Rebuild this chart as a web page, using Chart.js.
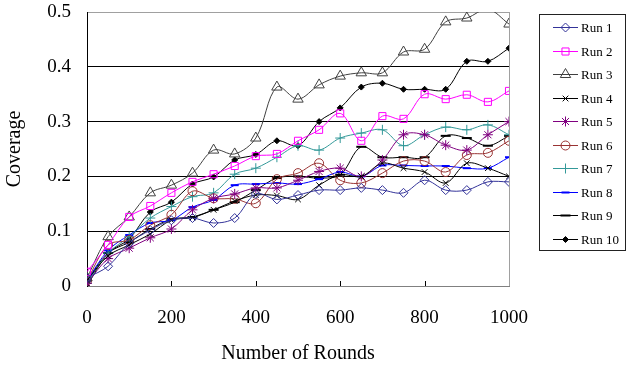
<!DOCTYPE html>
<html>
<head>
<meta charset="utf-8">
<script src="https://cdn.jsdelivr.net/npm/chart.js@4/dist/chart.umd.min.js"></script>
<style>
  html, body { margin: 0; padding: 0; background: #fff; }
</style>
</head>
<body>
<canvas id="coverageChart" width="626" height="367"></canvas>
<script>
"use strict";
const SERIF = "'Liberation Serif', 'Times New Roman', serif";

// rounds sampled every 50
const rounds = [0, 50, 100, 150, 200, 250, 300, 350, 400, 450, 500,
  550, 600, 650, 700, 750, 800, 850, 900, 950, 1000];
const xTicks = [0, 200, 400, 600, 800, 1000];
const yTicks = [0, 0.1, 0.2, 0.3, 0.4, 0.5];

const run1 = [0.015, 0.036, 0.078, 0.102, 0.12, 0.124, 0.115, 0.124, 0.168, 0.158, 0.166,
  0.175, 0.175, 0.179, 0.175, 0.17, 0.193, 0.175, 0.175, 0.19, 0.19];
const run2 = [0.026, 0.075, 0.126, 0.146, 0.17, 0.19, 0.204, 0.219, 0.237, 0.241, 0.265,
  0.285, 0.315, 0.265, 0.31, 0.305, 0.35, 0.341, 0.349, 0.336, 0.356];
const run3 = [0.015, 0.09, 0.126, 0.17, 0.184, 0.206, 0.248, 0.241, 0.27, 0.363, 0.341,
  0.367, 0.383, 0.389, 0.389, 0.427, 0.432, 0.482, 0.489, 0.505, 0.478];
const run4 = [0.01, 0.055, 0.075, 0.095, 0.12, 0.125, 0.139, 0.155, 0.166, 0.165, 0.158,
  0.184, 0.203, 0.2, 0.224, 0.215, 0.208, 0.188, 0.224, 0.215, 0.2];
const run5 = [0.005, 0.05, 0.069, 0.088, 0.104, 0.139, 0.16, 0.168, 0.179, 0.179, 0.193,
  0.209, 0.215, 0.2, 0.23, 0.276, 0.276, 0.257, 0.248, 0.276, 0.3];
const run6 = [0.01, 0.075, 0.084, 0.111, 0.13, 0.173, 0.16, 0.159, 0.151, 0.195, 0.206,
  0.224, 0.193, 0.188, 0.206, 0.228, 0.228, 0.208, 0.239, 0.243, 0.265];
const run7 = [0.005, 0.06, 0.09, 0.124, 0.145, 0.163, 0.17, 0.204, 0.215, 0.235, 0.256,
  0.248, 0.27, 0.279, 0.285, 0.256, 0.276, 0.29, 0.285, 0.294, 0.276];
const run8 = [0.01, 0.065, 0.093, 0.115, 0.12, 0.144, 0.157, 0.184, 0.186, 0.188, 0.186,
  0.195, 0.208, 0.2, 0.22, 0.22, 0.219, 0.219, 0.215, 0.215, 0.235];
const run9 = [0.01, 0.06, 0.08, 0.104, 0.122, 0.126, 0.139, 0.153, 0.175, 0.197, 0.2,
  0.197, 0.203, 0.254, 0.235, 0.235, 0.235, 0.274, 0.27, 0.256, 0.274];
const run10 = [0.0, 0.06, 0.086, 0.135, 0.153, 0.186, 0.199, 0.23, 0.24, 0.265, 0.256,
  0.3, 0.325, 0.363, 0.37, 0.359, 0.359, 0.359, 0.41, 0.41, 0.434];

const runs = [run1, run2, run3, run4, run5, run6, run7, run8, run9, run10];
const labels = ["Run 1", "Run 2", "Run 3", "Run 4", "Run 5",
  "Run 6", "Run 7", "Run 8", "Run 9", "Run 10"];

// marker look for each run
const styles = [
  { color: "#333399", point: "rectRot", radius: 4.5, fill: false, pw: 1 },
  { color: "#ff00ff", point: "rect", radius: 5, fill: false, pw: 1 },
  { color: "#404040", point: "triangle", radius: 6, fill: false, pw: 1 },
  { color: "#000000", point: "crossRot", radius: 4, fill: false, pw: 1 },
  { color: "#800080", point: "star", radius: 5, fill: false, pw: 1 },
  { color: "#993333", point: "circle", radius: 4.5, fill: false, pw: 1 },
  { color: "#339999", point: "cross", radius: 5, fill: false, pw: 1 },
  { color: "#0000ff", point: "line", radius: 4, fill: false, pw: 2 },
  { color: "#000000", point: "line", radius: 5, fill: false, pw: 2 },
  { color: "#000000", point: "rectRot", radius: 3, fill: true, pw: 1 },
];

const datasets = runs.map((vals, i) => {
  const s = styles[i];
  return {
    label: labels[i],
    data: vals.map((v, j) => ({ x: rounds[j], y: v })),
    borderColor: s.color,
    borderWidth: 1,
    tension: 0.35,
    pointStyle: s.point,
    // markers that fall above the plot top are hidden
    pointRadius: (ctx) => (ctx.raw && ctx.raw.y > 0.5 ? 0 : s.radius),
    pointBorderColor: s.color,
    pointBackgroundColor: s.fill ? s.color : "rgba(0,0,0,0)",
    pointBorderWidth: s.pw,
    _style: s,
  };
});

// boxed legend on the right, plus the frame bits the axes don't draw
const framePlugin = {
  id: "frame",
  afterDraw(chart) {
    const ctx = chart.ctx;
    const area = chart.chartArea;
    const xs = chart.scales.x;
    ctx.save();
    ctx.lineWidth = 1;
    ctx.strokeStyle = "#a0a0a0";
    ctx.beginPath();
    ctx.moveTo(Math.round(area.right) + 0.5, area.top);
    ctx.lineTo(Math.round(area.right) + 0.5, area.bottom);
    ctx.stroke();

    ctx.strokeStyle = "#000";
    ctx.beginPath();
    xTicks.slice(1, -1).forEach((v) => {
      const px = Math.round(xs.getPixelForValue(v)) + 0.5;
      ctx.moveTo(px, area.bottom);
      ctx.lineTo(px, area.bottom - 5);
    });
    ctx.stroke();

    // legend
    const bx = 539.5, by = 14.5, bw = 86, bh = 236;
    ctx.strokeStyle = "#222";
    ctx.strokeRect(bx, by, bw, bh);
    ctx.font = "13px " + SERIF;
    ctx.textBaseline = "middle";
    ctx.fillStyle = "#000";
    chart.data.datasets.forEach((ds, i) => {
      const s = ds._style;
      const y = Math.round(27 + i * 23.5) + 0.5;
      ctx.strokeStyle = s.color;
      ctx.lineWidth = 1;
      ctx.beginPath();
      ctx.moveTo(553, y);
      ctx.lineTo(578, y);
      ctx.stroke();
      ctx.fillStyle = s.fill ? s.color : "rgba(0,0,0,0)";
      ctx.lineWidth = s.pw;
      Chart.helpers.drawPoint(ctx, {
        pointStyle: s.point,
        radius: s.radius,
        borderWidth: s.pw,
        rotation: 0,
      }, 565.5, y);
      ctx.fillStyle = "#000";
      ctx.fillText(ds.label, 581, y + 1);
    });
    ctx.restore();
  },
};

const ctx = document.getElementById("coverageChart").getContext("2d");
const coverageChart = new Chart(ctx, {
  type: "line",
  data: { datasets: datasets },
  options: {
    responsive: false,
    animation: false,
    devicePixelRatio: 1,
    layout: { padding: { top: 12, right: 117, left: 0, bottom: 0 } },
    plugins: {
      legend: { display: false },
      tooltip: { enabled: false },
    },
    scales: {
      x: {
        type: "linear",
        min: 0,
        max: 1000,
        afterBuildTicks: (scale) => {
          scale.ticks = xTicks.map((v) => ({ value: v }));
        },
        afterFit: (scale) => {
          scale.height = 81;
          scale.paddingLeft = 0;
          scale.paddingRight = 0;
        },
        grid: { display: false, drawTicks: false },
        border: { display: true, color: "#808080", width: 1 },
        ticks: {
          color: "#000",
          font: { family: SERIF, size: 19 },
          padding: 21,
          maxRotation: 0,
          callback: (v) => String(v),
        },
        title: {
          display: true,
          text: "Number of Rounds",
          color: "#000",
          font: { family: SERIF, size: 20 },
          padding: { top: 0, bottom: 1 },
        },
      },
      y: {
        min: 0,
        max: 0.5,
        afterBuildTicks: (scale) => {
          scale.ticks = yTicks.map((v) => ({ value: v }));
        },
        afterFit: (scale) => {
          scale.width = 87;
          // label overhang is already covered by the layout padding
          scale.paddingTop = 0;
          scale.paddingBottom = 0;
        },
        grid: {
          drawTicks: false,
          color: (c) => {
            if (c.tick && c.tick.value >= 0.5) return "#a0a0a0";
            if (c.tick && c.tick.value === 0) return "#808080";
            return "#000";
          },
        },
        border: { display: true, color: "#000", width: 1 },
        ticks: {
          color: "#000",
          font: { family: SERIF, size: 19 },
          padding: 16,
          callback: (v) => String(Math.round(v * 10) / 10),
        },
        title: {
          display: true,
          text: "Coverage",
          color: "#000",
          font: { family: SERIF, size: 20 },
          padding: { top: 3, bottom: 0 },
        },
      },
    },
  },
  plugins: [framePlugin],
});
</script>
</body>
</html>
